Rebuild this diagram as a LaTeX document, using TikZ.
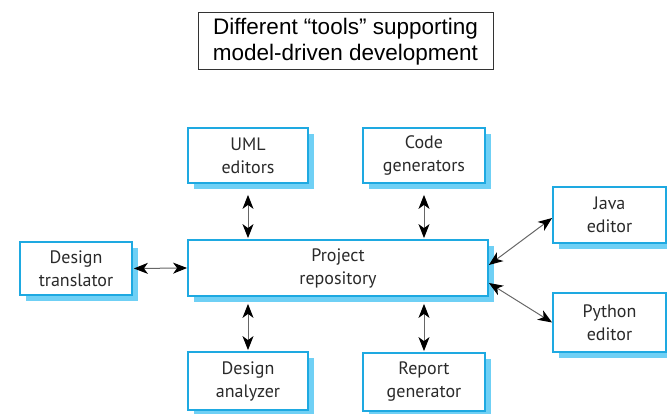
\documentclass[tikz,border=0pt]{standalone}
\usepackage{fontspec}
\setmainfont{PT Sans}
\newfontfamily\titlefont{Liberation Sans}
\usetikzlibrary{arrows.meta,shadows}

\definecolor{toolborder}{HTML}{1EA9E1}
\definecolor{toolshadow}{HTML}{6FD0F5}
\definecolor{linkgray}{HTML}{666666}
\definecolor{tooltext}{HTML}{2A2A2A}

\tikzset{
  toolbox/.style={draw=toolborder, line width=1.8pt, fill=white,
    align=center, inner sep=0pt, text=tooltext,
    font=\fontsize{18}{23}\selectfont,
    drop shadow={shadow xshift=6pt, shadow yshift=-6pt,
      fill=toolshadow, opacity=1}},
  biarrow/.style={draw=linkgray, line width=1pt,
    {Stealth[color=black,length=14pt,width=11pt,inset=4pt]}-{Stealth[color=black,length=14pt,width=11pt,inset=4pt]}},
  titlebox/.style={draw=black!80, line width=1pt, align=center,
    minimum width=295pt, minimum height=57pt, inner sep=0pt,
    font=\titlefont\fontsize{22.5}{26}\selectfont}
}

\begin{document}
\begin{tikzpicture}[x=1pt, y=-1pt]
  \useasboundingbox (0,0) rectangle (667,414);

  % title
  \node[titlebox] (title) at (345.5,41.5) {Different “tools” supporting\\model-driven development};

  % tools around the repository
  \node[toolbox, minimum width=120pt, minimum height=55pt] (uml)  at (248,155.5) {UML\\editors};
  \node[toolbox, minimum width=122pt, minimum height=55pt] (code) at (424,155.5) {Code\\generators};
  \node[toolbox, minimum width=112pt, minimum height=53pt] (trans) at (76,268.5) {Design\\translator};
  \node[toolbox, minimum width=300pt, minimum height=56pt] (proj) at (338,268) {Project\\repository};
  \node[toolbox, minimum width=113pt, minimum height=56pt] (java) at (609.5,215) {Java\\editor};
  \node[toolbox, minimum width=113pt, minimum height=59pt] (py)   at (609.5,322.5) {Python\\editor};
  \node[toolbox, minimum width=120pt, minimum height=58pt] (ana)  at (248,381) {Design\\analyzer};
  \node[toolbox, minimum width=122pt, minimum height=58pt] (rep)  at (424,382) {Report\\generator};

  % links
  \draw[biarrow, shorten <=11pt, shorten >=1pt] (uml.south) -- (uml.south |- proj.north);
  \draw[biarrow, shorten <=11pt, shorten >=1pt] (code.south) -- (code.south |- proj.north);
  \draw[biarrow, shorten <=7pt, shorten >=1pt] (ana.north |- proj.south) -- (ana.north);
  \draw[biarrow, shorten <=7pt, shorten >=1pt] (rep.north |- proj.south) -- (rep.north);
  \draw[biarrow, shorten <=1pt] (trans.east) -- (proj.west);
  \draw[biarrow] ([yshift=3pt]proj.east) -- ([yshift=-3pt]java.west);
  \draw[biarrow] ([yshift=-15pt]proj.east) -- (py.west);
\end{tikzpicture}
\end{document}
